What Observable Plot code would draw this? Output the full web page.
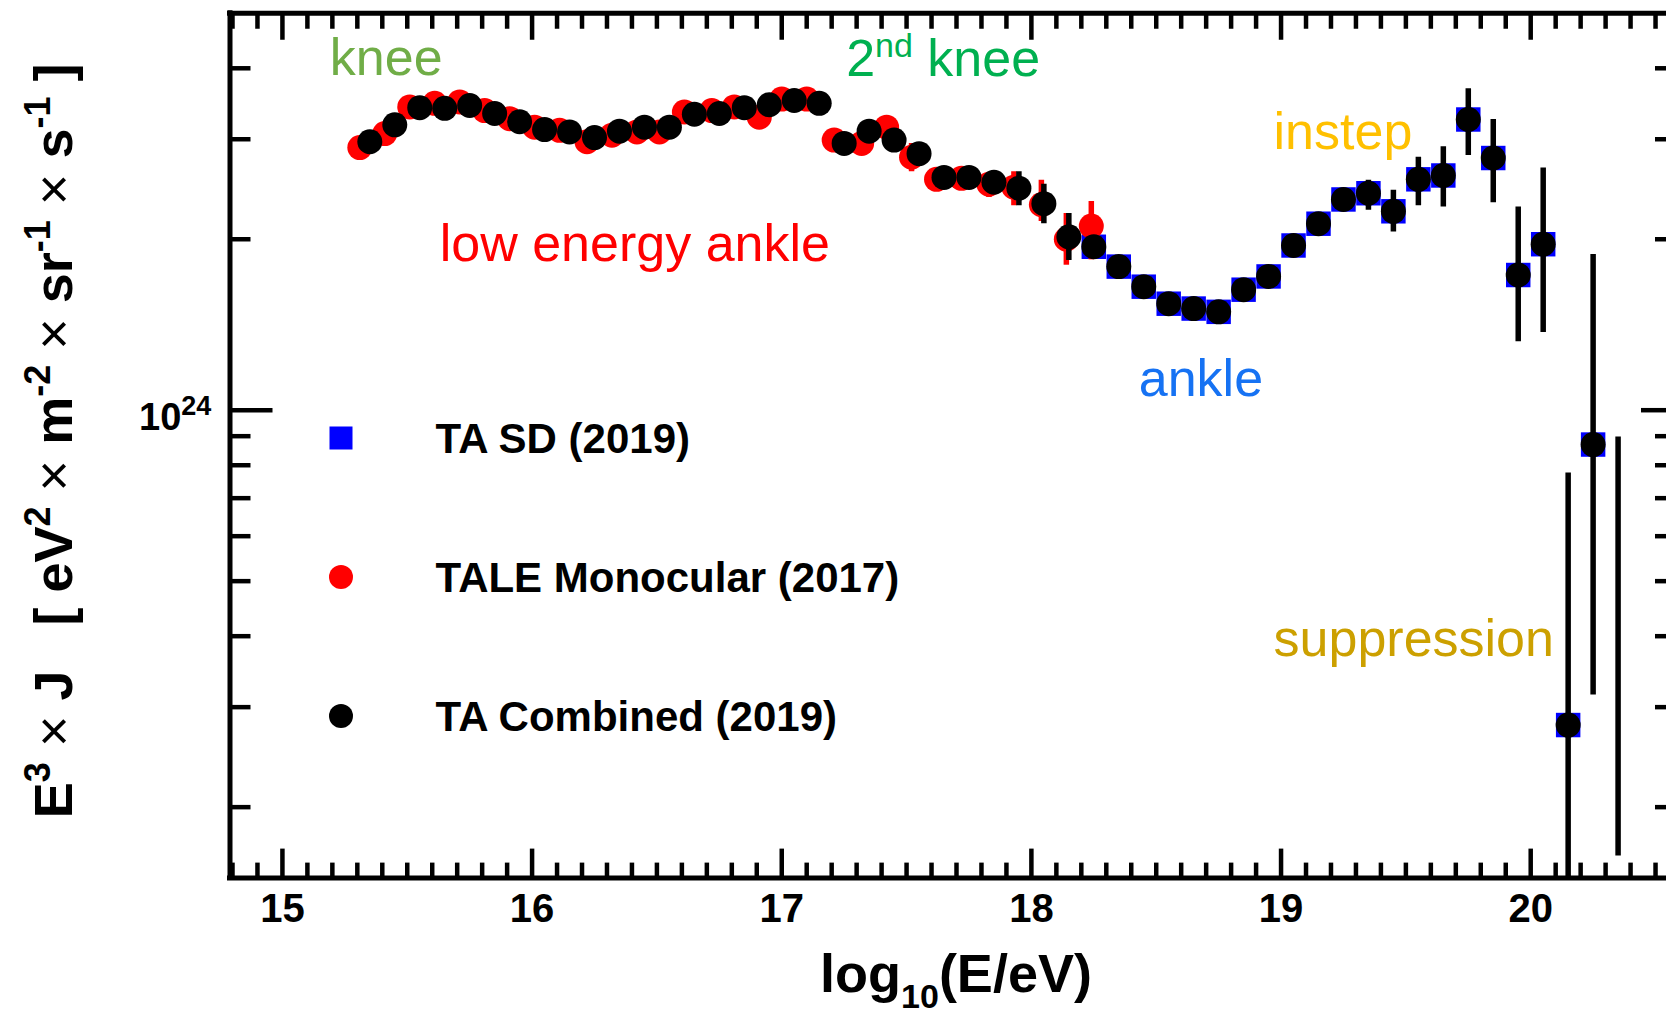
<!DOCTYPE html>
<html>
<head>
<meta charset="utf-8">
<script src="https://cdn.jsdelivr.net/npm/d3@7"></script>
<script src="https://cdn.jsdelivr.net/npm/@observablehq/plot@0.6"></script>
<style>
  body { margin: 0; background: #fff; }
  #chart { position: relative; width: 1666px; height: 1016px; overflow: hidden; background: #fff; }
  #chart svg { overflow: hidden; }
</style>
</head>
<body>
<div id="chart"></div>
<script>
// ---- Cosmic-ray energy spectrum, E^3 J in eV^2 m^-2 sr^-1 s^-1 vs log10(E/eV) ----

// TA Combined (2019): bin centres, flux, lower / upper error bounds
const comboLogE = [15.35, 15.45, 15.55, 15.65, 15.75, 15.85, 15.95, 16.05, 16.15, 16.25,
                   16.35, 16.45, 16.55, 16.65, 16.75, 16.85, 16.95, 17.05, 17.15, 17.25,
                   17.35, 17.45, 17.55, 17.65, 17.75, 17.85, 17.95, 18.05, 18.15, 18.25,
                   18.35, 18.45, 18.55, 18.65, 18.75, 18.85, 18.95, 19.05, 19.15, 19.25,
                   19.35, 19.45, 19.55, 19.65, 19.75, 19.85, 19.95, 20.05, 20.15, 20.25];
const comboFlux = [2.97e24, 3.18e24, 3.41e24, 3.40e24, 3.44e24, 3.33e24, 3.22e24, 3.12e24, 3.09e24, 3.02e24,
                   3.10e24, 3.15e24, 3.15e24, 3.32e24, 3.33e24, 3.41e24, 3.45e24, 3.51e24, 3.47e24, 2.95e24,
                   3.10e24, 2.99e24, 2.83e24, 2.57e24, 2.57e24, 2.52e24, 2.46e24, 2.31e24, 2.02e24, 1.94e24,
                   1.79e24, 1.65e24, 1.54e24, 1.51e24, 1.49e24, 1.63e24, 1.72e24, 1.95e24, 2.13e24, 2.35e24,
                   2.41e24, 2.24e24, 2.55e24, 2.59e24, 3.25e24, 2.78e24, 1.73e24, 1.96e24, 2.79e23, 8.70e23];
const comboLo   = [2.94e24, 3.15e24, 3.38e24, 3.37e24, 3.41e24, 3.30e24, 3.19e24, 3.09e24, 3.06e24, 2.99e24,
                   3.07e24, 3.12e24, 3.12e24, 3.29e24, 3.30e24, 3.38e24, 3.42e24, 3.47e24, 3.43e24, 2.91e24,
                   3.06e24, 2.95e24, 2.78e24, 2.52e24, 2.51e24, 2.45e24, 2.29e24, 2.13e24, 1.835e24, 1.87e24,
                   1.74e24, 1.61e24, 1.50e24, 1.47e24, 1.45e24, 1.58e24, 1.66e24, 1.88e24, 2.05e24, 2.25e24,
                   2.25e24, 2.06e24, 2.29e24, 2.28e24, 2.81e24, 2.32e24, 1.32e24, 1.37e24, 1.0e23, 3.15e23];
const comboHi   = [3.00e24, 3.21e24, 3.44e24, 3.43e24, 3.47e24, 3.36e24, 3.25e24, 3.15e24, 3.12e24, 3.05e24,
                   3.13e24, 3.18e24, 3.18e24, 3.35e24, 3.36e24, 3.44e24, 3.48e24, 3.55e24, 3.51e24, 2.99e24,
                   3.14e24, 3.03e24, 2.88e24, 2.62e24, 2.63e24, 2.59e24, 2.63e24, 2.50e24, 2.22e24, 2.01e24,
                   1.84e24, 1.69e24, 1.58e24, 1.55e24, 1.53e24, 1.68e24, 1.78e24, 2.02e24, 2.21e24, 2.45e24,
                   2.54e24, 2.44e24, 2.79e24, 2.91e24, 3.68e24, 3.25e24, 2.28e24, 2.67e24, 7.75e23, 1.88e24];

// Highest-energy bin with an error band but no plotted point
const extraLogE = [20.35];
const extraLo   = [1.64e23];
const extraHi   = [8.97e23];

// TA SD (2019)
const sdLogE = [18.25, 18.35, 18.45, 18.55, 18.65, 18.75, 18.85, 18.95, 19.05, 19.15, 19.25,
                19.35, 19.45, 19.55, 19.65, 19.75, 19.85, 19.95, 20.05, 20.15, 20.25];
const sdFlux = [1.94e24, 1.79e24, 1.65e24, 1.54e24, 1.51e24, 1.49e24, 1.63e24, 1.72e24, 1.95e24, 2.13e24, 2.35e24,
                2.41e24, 2.24e24, 2.55e24, 2.59e24, 3.25e24, 2.78e24, 1.73e24, 1.96e24, 2.79e23, 8.70e23];

// TALE Monocular (2017)
const taleLogE = [15.31, 15.41, 15.51, 15.61, 15.71, 15.81, 15.91, 16.01, 16.11, 16.22,
                  16.32, 16.42, 16.51, 16.61, 16.72, 16.81, 16.91, 17.00, 17.10, 17.21,
                  17.32, 17.42, 17.52, 17.62, 17.72, 17.83, 17.93, 18.04, 18.14, 18.24];
const taleFlux = [2.90e24, 3.07e24, 3.42e24, 3.47e24, 3.49e24, 3.37e24, 3.26e24, 3.15e24, 3.11e24, 2.97e24,
                  3.05e24, 3.09e24, 3.09e24, 3.35e24, 3.37e24, 3.42e24, 3.28e24, 3.53e24, 3.53e24, 2.99e24,
                  2.95e24, 3.15e24, 2.79e24, 2.55e24, 2.56e24, 2.50e24, 2.47e24, 2.30e24, 2.00e24, 2.11e24];
const taleLo   = [2.87e24, 3.04e24, 3.39e24, 3.44e24, 3.46e24, 3.34e24, 3.23e24, 3.12e24, 3.08e24, 2.94e24,
                  3.02e24, 3.06e24, 3.06e24, 3.32e24, 3.34e24, 3.39e24, 3.25e24, 3.50e24, 3.50e24, 2.95e24,
                  2.90e24, 3.10e24, 2.63e24, 2.49e24, 2.48e24, 2.37e24, 2.29e24, 2.15e24, 1.80e24, 1.84e24];
const taleHi   = [2.93e24, 3.10e24, 3.45e24, 3.50e24, 3.52e24, 3.40e24, 3.29e24, 3.18e24, 3.14e24, 3.00e24,
                  3.08e24, 3.12e24, 3.12e24, 3.38e24, 3.40e24, 3.45e24, 3.31e24, 3.56e24, 3.56e24, 3.03e24,
                  3.00e24, 3.20e24, 2.95e24, 2.61e24, 2.64e24, 2.60e24, 2.63e24, 2.54e24, 2.22e24, 2.33e24];

// Axis ticks
const majorX = [15, 16, 17, 18, 19, 20];
const minorX = d3.range(148, 207).map(d => d / 10).filter(d => !Number.isInteger(d));
const majorY = [1e24];
const minorY = [2e23, 3e23, 4e23, 5e23, 6e23, 7e23, 8e23, 9e23, 2e24, 3e24, 4e24];

// Feature annotations: left edge (log10 E) and baseline (flux)
const notes = [
  {text: "knee",             x: 15.19, y: 3.90e24, color: "#70ad47"},
  {text: "low energy ankle", x: 15.63, y: 1.83e24, color: "#ff0000"},
  {text: "ankle",            x: 18.43, y: 1.06e24, color: "#1672f3"},
  {text: "instep",           x: 18.97, y: 2.88e24, color: "#ffc000"},
  {text: "suppression",      x: 18.97, y: 3.69e23, color: "#cca000"}
];
const secondKnee = {x: 17.26, y: 3.80e24, color: "#00b050"};

// Legend entries
const legendLabels = ["TA SD (2019)", "TALE Monocular (2017)", "TA Combined (2019)"];
const legendColors = ["#0000ff", "#ff0000", "#000000"];
const legendShapes = ["square", "circle", "circle"];

// ---- layout ----
const W = 1666, H = 1016;
const mL = 229.5, mR = 0, mT = 12.75, mB = 138.4;
const innerW = W - mL - mR, innerH = H - mT - mB;
const xDomain = [14.79, 20.6];
const yDomain = [1.5e23, 5e24];
const FONT = "'Liberation Sans', Arial, Helvetica, sans-serif";

const combo = comboLogE.map((x, i) => ({x, y: comboFlux[i], lo: comboLo[i], hi: comboHi[i]}));
const sd = sdLogE.map((x, i) => ({x, y: sdFlux[i]}));
const tale = taleLogE.map((x, i) => ({x, y: taleFlux[i], lo: taleLo[i], hi: taleHi[i]}));
const extra = extraLogE.map((x, i) => ({x, lo: extraLo[i], hi: extraHi[i]}));

const tickW = 4.5;
const chart = Plot.plot({
  width: W, height: H,
  marginLeft: mL, marginRight: mR, marginTop: mT, marginBottom: mB,
  x: {domain: xDomain, range: [mL, 1680], axis: null},
  y: {type: "log", domain: yDomain, axis: null},
  style: {background: "white", fontFamily: FONT},
  marks: [
    // inward ticks: bottom, top, left, right
    Plot.tickX(minorX, {x: d => d, insetTop: innerH - 15, strokeWidth: tickW}),
    Plot.tickX(majorX, {x: d => d, insetTop: innerH - 29, strokeWidth: tickW}),
    Plot.tickX(minorX, {x: d => d, insetBottom: innerH - 16, strokeWidth: tickW}),
    Plot.tickX(majorX, {x: d => d, insetBottom: innerH - 27, strokeWidth: tickW}),
    Plot.tickY(minorY, {y: d => d, insetRight: innerW - 21, strokeWidth: tickW}),
    Plot.tickY(majorY, {y: d => d, insetRight: innerW - 43, strokeWidth: tickW}),
    Plot.tickY(minorY, {y: d => d, insetLeft: 1655 - mL, strokeWidth: tickW}),
    Plot.tickY(majorY, {y: d => d, insetLeft: 1641 - mL, strokeWidth: tickW}),
    // frame
    Plot.ruleX([xDomain[0]], {strokeWidth: 5, strokeLinecap: "square"}),
    Plot.ruleY(yDomain, {strokeWidth: 5, strokeLinecap: "square"}),
    // TA SD squares
    Plot.dot(sd, {x: "x", y: "y", symbol: "square", r: 13.8, fill: "#0000ff"}),
    // TALE monocular
    Plot.ruleX(tale, {x: "x", y1: "lo", y2: "hi", stroke: "#ff0000", strokeWidth: 5.5, clip: true}),
    Plot.dot(tale, {x: "x", y: "y", r: 12.5, fill: "#ff0000"}),
    // TA combined
    Plot.ruleX(combo, {x: "x", y1: "lo", y2: "hi", stroke: "#000", strokeWidth: 5.5, clip: true}),
    Plot.ruleX(extra, {x: "x", y1: "lo", y2: "hi", stroke: "#000", strokeWidth: 5.5, clip: true}),
    Plot.dot(combo, {x: "x", y: "y", r: 12.5, fill: "#000"}),
    // x tick labels
    Plot.text(majorX, {x: d => d, frameAnchor: "bottom", lineAnchor: "top", dy: 15,
      text: d => String(d), fontSize: 40, fontWeight: "bold", fill: "#000"}),
    // feature annotations
    Plot.text(notes, {x: "x", y: "y", text: "text", fill: "color", textAnchor: "start",
      lineAnchor: "bottom", fontSize: 52, fontFamily: FONT})
  ]
});
document.getElementById("chart").appendChild(chart);

// ---- rich-text labels drawn into the same SVG ----
const svg = d3.select(chart);
const sx = chart.scale("x"), sy = chart.scale("y");

// writes a sequence of [text, kind] runs; "sup"/"sub" runs are shifted and smaller
function richText(t, runs, {supSize, shift}) {
  let pending = 0;
  for (const [txt, kind] of runs) {
    const s = t.append("tspan").text(txt);
    if (kind === "sup" || kind === "sub") {
      const d = kind === "sup" ? -shift : shift;
      s.attr("dy", pending + d).style("font-size", supSize + "px");
      pending = -d;
    } else {
      if (pending) s.attr("dy", pending);
      pending = 0;
      if (kind === "light") s.style("font-weight", "normal");
    }
  }
}

// "2nd knee"
richText(
  svg.append("text")
    .attr("x", sx.apply(secondKnee.x)).attr("y", sy.apply(secondKnee.y) - 4)
    .attr("text-anchor", "start").attr("fill", secondKnee.color)
    .style("font", `52px ${FONT}`).style("white-space", "pre"),
  [["2"], ["nd", "sup"], [" knee"]], {supSize: 34, shift: 19});

// y tick label 10^24
richText(
  svg.append("text")
    .attr("x", 139).attr("y", sy.apply(1e24) + 20)
    .attr("text-anchor", "start")
    .style("font", `bold 38px ${FONT}`),
  [["10"], ["24", "sup"]], {supSize: 27, shift: 15});

// y-axis title
richText(
  svg.append("text")
    .attr("transform", `translate(72, ${mT + innerH * 0.495}) rotate(-90)`)
    .attr("text-anchor", "middle")
    .style("font", `bold 54px ${FONT}`).style("white-space", "pre"),
  [["E"], ["3", "sup"], [" "], ["\u00d7", "light"], [" J   [ eV"], ["2", "sup"], [" "], ["\u00d7", "light"],
   [" m"], ["-2", "sup"], [" "], ["\u00d7", "light"], [" sr"], ["-1", "sup"], [" "], ["\u00d7", "light"],
   [" s"], ["-1", "sup"], [" ]"]],
  {supSize: 36, shift: 22});

// x-axis title log10(E/eV)
richText(
  svg.append("text")
    .attr("x", 956).attr("y", 992)
    .attr("text-anchor", "middle")
    .style("font", `bold 54px ${FONT}`),
  [["log"], ["10", "sub"], ["(E/eV)"]], {supSize: 34, shift: 16});

// legend
{
  const g = svg.append("g");
  const rowY = [438, 577, 716];
  legendLabels.forEach((label, i) => {
    const cy = rowY[i];
    if (legendShapes[i] === "square") {
      g.append("rect").attr("x", 341 - 11.5).attr("y", cy - 11.5)
        .attr("width", 23).attr("height", 23).attr("fill", legendColors[i]);
    } else {
      g.append("circle").attr("cx", 341).attr("cy", cy).attr("r", 12).attr("fill", legendColors[i]);
    }
    g.append("text").attr("x", 435.6).attr("y", cy + 15)
      .attr("text-anchor", "start")
      .style("font", `bold 42px ${FONT}`).text(label);
  });
}
</script>
</body>
</html>
